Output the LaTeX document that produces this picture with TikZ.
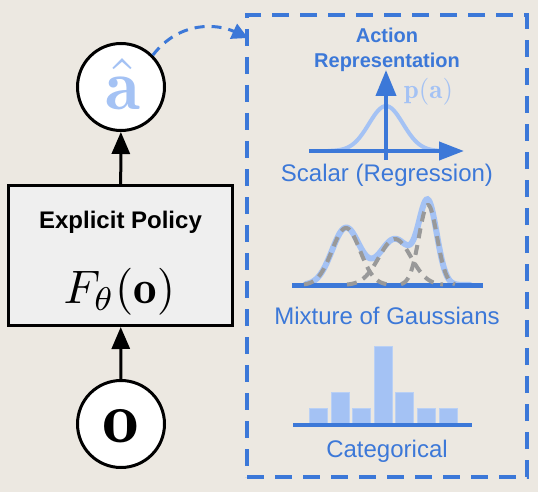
\documentclass[tikz,border=0pt]{standalone}
\usepackage{graphicx}
\usepackage{fontspec}
\newfontfamily\arial{Liberation Sans}
\usetikzlibrary{arrows.meta}
\definecolor{bg}{RGB}{236,232,225}
\definecolor{dblue}{HTML}{3C78D8}
\definecolor{lblue}{HTML}{A4C2F4}
\definecolor{ledge}{HTML}{B9D0F5}
\definecolor{dgray}{HTML}{999999}
\definecolor{boxgray}{HTML}{EFEFEF}
\pgfmathdeclarefunction{gs}{3}{\pgfmathparse{exp(-min(0.5*pow((#1-#2)/#3,2),9))}}
\begin{document}
\begin{tikzpicture}[x=1pt,y=-1pt,
  circ/.style={circle,draw=black,fill=white,line width=3pt,minimum size=87pt,inner sep=0pt},
  blk/.style={-{Triangle[length=22pt,width=18pt]},line width=3pt,black},
  lbl/.style={font=\arial\fontsize{24}{24}\selectfont,text=dblue,anchor=base,inner sep=0pt},
  ttl/.style={font=\arial\bfseries\fontsize{20}{20}\selectfont,text=dblue,anchor=base,inner sep=0pt},
  axis/.style={dblue,line width=4pt},
  bar/.style={fill=lblue,draw=ledge,line width=1pt},
  comp/.style={dgray,line width=4pt,dash pattern=on 10pt off 7pt},
]
\fill[bg] (0,0) rectangle (538,492);
\useasboundingbox (0,0) rectangle (538,492);

% left column
\node[circ] (ahat) at (121,87) {};
\node[anchor=base,inner sep=0pt,text=lblue] (ahattxt) at (123,110) {\scalebox{7.2}{$\hat{\mathbf{a}}$}};
\node[draw=black,fill=boxgray,line width=3pt,minimum width=224pt,minimum height=140pt,inner sep=0pt] (policy) at (120.5,255.5) {};
\node[font=\arial\bfseries\fontsize{24}{24}\selectfont,anchor=base,inner sep=0pt] (ptitle) at (120.5,228) {Explicit Policy};
\node[anchor=base,inner sep=0pt] (pfun) at (119.5,303) {\scalebox{4.7}{$F_\theta(\mathbf{o})$}};
\node[circ] (obs) at (121,424) {};
\node[anchor=base,inner sep=0pt] (otxt) at (121,442) {\scalebox{7.3}{$\mathbf{o}$}};
\draw[blk] (obs) -- (policy);
\draw[blk] (policy) -- (ahat);

% representation box
\node[draw=dblue,line width=4pt,dash pattern=on 17pt off 11pt,minimum width=280pt,minimum height=462pt,inner sep=0pt] (rep) at (387,246) {};
\coordinate (tgt) at (248,38);
\draw[dblue,line width=3pt,dash pattern=on 10pt off 7pt,-{Triangle[length=16pt,width=16pt]}] (ahat.45) .. controls (180,20) and (218,24) .. (tgt);

\node[ttl] (t1) at (387,43) {Action};
\node[ttl] (t2) at (387,68) {Representation};

% scalar
\draw[lblue,line width=4pt] plot[domain=328:444,samples=80,smooth] (\x,{151-45*gs(\x,386,17)});
\draw[axis,-{Triangle[length=26pt,width=20pt]}] (386,160) -- (386,70);
\draw[axis,-{Triangle[length=25pt,width=18pt]}] (309,151) -- (464,151);
\node[anchor=base,inner sep=0pt,text=lblue] (pa) at (428.5,99) {\scalebox{2.7}{$\mathbf{p}(\mathbf{a})$}};
\node[lbl] (scal) at (387,182) {Scalar (Regression)};

% mixture
\draw[lblue,line width=6pt,line cap=round] plot[domain=306:470,samples=140,smooth] (\x,{285-57*gs(\x,346,14)-46*gs(\x,395,16)-80*gs(\x,428,9)});
\draw[axis,line width=5pt] (292,285) -- (483,285);
\draw[comp] plot[domain=304:388,samples=60,smooth] (\x,{285-57*gs(\x,346,14)});
\draw[comp] plot[domain=347:443,samples=60,smooth] (\x,{285-46*gs(\x,395,16)});
\draw[comp] plot[domain=401:455,samples=60,smooth] (\x,{285-80*gs(\x,428,9)});
\node[lbl] (mix) at (387,324) {Mixture of Gaussians};

% categorical
\draw[bar] (309,408) rectangle (327,423);
\draw[bar] (331,392) rectangle (349,423);
\draw[bar] (352,408) rectangle (370,423);
\draw[bar] (374,346) rectangle (392,423);
\draw[bar] (395,392) rectangle (413,423);
\draw[bar] (417,408) rectangle (435,423);
\draw[bar] (439,408) rectangle (457,423);
\draw[axis] (293,425) -- (472,425);
\node[lbl] (cat) at (387,457) {Categorical};
\end{tikzpicture}
\end{document}
